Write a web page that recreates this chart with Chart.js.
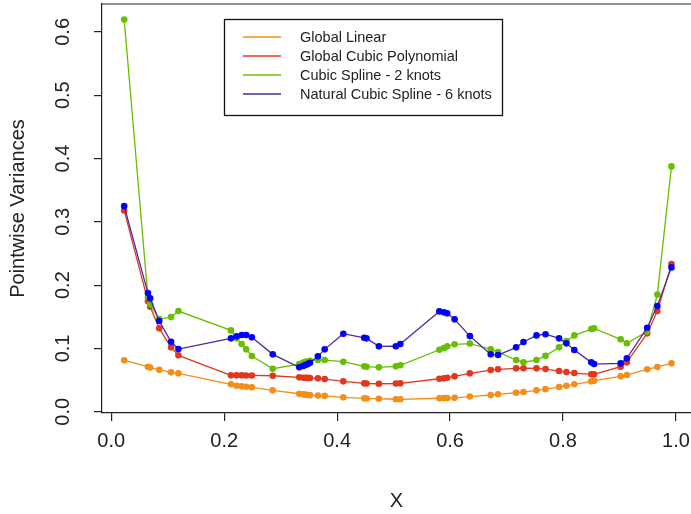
<!DOCTYPE html>
<html>
<head>
<meta charset="utf-8">
<script src="https://cdn.jsdelivr.net/npm/chart.js@4.4.1/dist/chart.umd.min.js"></script>
<style>
  body { margin: 0; background: #fff; overflow: hidden; }
  #wrap { width: 691px; height: 514px; }
</style>
</head>
<body>
<div id="wrap"><canvas id="varchart"></canvas></div>
<script>
// x positions of the sample points (shared by all four fits)
const xs = [0.023, 0.065, 0.069, 0.085, 0.106, 0.119, 0.212, 0.222, 0.231, 0.239, 0.249, 0.286,
  0.333, 0.340, 0.344, 0.348, 0.352, 0.366, 0.378, 0.411, 0.448, 0.452, 0.474, 0.504, 0.512,
  0.581, 0.589, 0.595, 0.608, 0.635, 0.672, 0.685, 0.717, 0.730, 0.753, 0.769, 0.793, 0.806,
  0.820, 0.850, 0.855, 0.902, 0.913, 0.949, 0.967, 0.992];

const globalLinear = [0.0812, 0.0711, 0.0698, 0.0663, 0.0622, 0.0606, 0.0433, 0.0411, 0.0401, 0.0395,
  0.0385, 0.0338, 0.0284, 0.0275, 0.0270, 0.0265, 0.0262, 0.0256, 0.0251, 0.0227, 0.0212, 0.0208,
  0.0205, 0.0197, 0.0196, 0.0213, 0.0215, 0.0216, 0.0219, 0.0240, 0.0264, 0.0275, 0.0300, 0.0311,
  0.0338, 0.0357, 0.0390, 0.0411, 0.0433, 0.0480, 0.0491, 0.0559, 0.0581, 0.0670, 0.0707, 0.0764];

const globalCubic = [0.3180, 0.1748, 0.1658, 0.1317, 0.1017, 0.0891, 0.0575, 0.0575, 0.0575, 0.0573,
  0.0573, 0.0568, 0.0543, 0.0537, 0.0535, 0.0534, 0.0532, 0.0527, 0.0516, 0.0480, 0.0448, 0.0445,
  0.0442, 0.0445, 0.0448, 0.0521, 0.0527, 0.0537, 0.0559, 0.0606, 0.0658, 0.0670, 0.0685, 0.0687,
  0.0685, 0.0674, 0.0643, 0.0627, 0.0611, 0.0591, 0.0591, 0.0711, 0.0780, 0.1238, 0.1590, 0.2332];

const cubicSpline = [0.6196, 0.1811, 0.1696, 0.1464, 0.1495, 0.1590, 0.1285, 0.1159, 0.1069, 0.0985,
  0.0880, 0.0679, 0.0753, 0.0777, 0.0790, 0.0797, 0.0805, 0.0816, 0.0816, 0.0790, 0.0717, 0.0711,
  0.0701, 0.0717, 0.0734, 0.0979, 0.1006, 0.1033, 0.1064, 0.1077, 0.0987, 0.0943, 0.0816, 0.0782,
  0.0816, 0.0883, 0.1017, 0.1116, 0.1206, 0.1306, 0.1317, 0.1143, 0.1082, 0.1266, 0.1851, 0.3875];

const naturalSpline = [0.3248, 0.1874, 0.1791, 0.1432, 0.1105, 0.0990, 0.1159, 0.1191, 0.1211, 0.1211,
  0.1175, 0.0906, 0.0701, 0.0722, 0.0737, 0.0753, 0.0774, 0.0875, 0.0985, 0.1232, 0.1168, 0.1159,
  0.1033, 0.1034, 0.1069, 0.1585, 0.1570, 0.1554, 0.1459, 0.1195, 0.0906, 0.0895, 0.1017, 0.1101,
  0.1206, 0.1224, 0.1159, 0.1080, 0.0974, 0.0780, 0.0753, 0.0764, 0.0843, 0.1326, 0.1669, 0.2280];

const seriesNames = ['Global Linear', 'Global Cubic Polynomial', 'Cubic Spline - 2 knots', 'Natural Cubic Spline - 6 knots'];
const xTicks = [0, 0.2, 0.4, 0.6, 0.8, 1.0];
const yTicks = [0, 0.1, 0.2, 0.3, 0.4, 0.5, 0.6];

const FONT = '"Liberation Sans", Arial, Helvetica, sans-serif';
const INK = '#222';

function pts(ys) {
  return xs.map((x, i) => ({ x: x, y: ys[i] }));
}

function series(label, ys, lineColor, dotColor, order) {
  return {
    label: label,
    data: pts(ys),
    borderColor: lineColor,
    backgroundColor: dotColor,
    pointBackgroundColor: dotColor,
    pointBorderWidth: 0,
    pointRadius: 3.3,
    borderWidth: 1.3,
    tension: 0,
    order: order
  };
}

const datasets = [
  series(seriesNames[0], globalLinear, 'rgb(243,142,24)', 'rgb(243,142,24)', 4),
  series(seriesNames[1], globalCubic, 'rgb(226,55,30)', 'rgb(226,55,30)', 3),
  series(seriesNames[2], cubicSpline, 'rgb(104,190,0)', 'rgb(104,190,0)', 2),
  series(seriesNames[3], naturalSpline, 'rgb(74,42,158)', 'rgb(0,0,255)', 1)
];

// box edge, rotated y labels and the framed legend
const extras = {
  id: 'extras',
  afterDraw(chart) {
    const { ctx, chartArea, scales } = chart;
    ctx.save();
    ctx.strokeStyle = INK;
    ctx.lineWidth = 1.2;
    ctx.beginPath();
    ctx.moveTo(chartArea.left, chartArea.top);
    ctx.lineTo(chartArea.right, chartArea.top);
    ctx.stroke();

    ctx.fillStyle = INK;
    ctx.font = '20px ' + FONT;
    ctx.textAlign = 'center';
    ctx.textBaseline = 'middle';
    yTicks.forEach(v => {
      ctx.save();
      ctx.translate(63, scales.y.getPixelForValue(v));
      ctx.rotate(-Math.PI / 2);
      ctx.fillText(v.toFixed(1), 0, 0);
      ctx.restore();
    });

    // legend
    ctx.lineWidth = 1.3;
    ctx.strokeStyle = '#111';
    ctx.strokeRect(224.5, 19.5, 278, 96);
    ctx.font = '14.5px ' + FONT;
    ctx.textAlign = 'left';
    chart.data.datasets.forEach((ds, i) => {
      const ly = 37 + i * 19;
      ctx.strokeStyle = ds.borderColor;
      ctx.lineWidth = 1.6;
      ctx.beginPath();
      ctx.moveTo(243, ly);
      ctx.lineTo(281, ly);
      ctx.stroke();
      ctx.fillStyle = INK;
      ctx.fillText(ds.label, 300, ly + 0.5);
    });
    ctx.restore();
  }
};

Chart.defaults.font.family = FONT;
Chart.defaults.color = INK;

new Chart('varchart', {
  type: 'line',
  data: { datasets: datasets },
  options: {
    responsive: true,
    maintainAspectRatio: false,
    animation: false,
    layout: { autoPadding: false, padding: { top: 4, left: 0, right: 0, bottom: 0 } },
    plugins: {
      legend: { display: false },
      tooltip: { enabled: false }
    },
    scales: {
      x: {
        type: 'linear',
        min: -0.0163,
        max: 1.0266,
        afterBuildTicks: s => { s.ticks = xTicks.map(v => ({ value: v })); },
        afterFit: s => { s.height = 101; s.paddingLeft = 0; s.paddingRight = 0; },
        grid: { drawOnChartArea: false, drawTicks: true, tickLength: 8, color: INK, lineWidth: 1.2 },
        border: { display: true, color: INK, width: 1.2 },
        ticks: {
          font: { size: 20 },
          color: INK,
          padding: 8,
          maxRotation: 0,
          autoSkip: false,
          callback: v => v.toFixed(1)
        },
        title: { display: true, text: 'X', font: { size: 20 }, color: INK, padding: { top: 0, bottom: 1 } }
      },
      y: {
        type: 'linear',
        min: -0.002,
        max: 0.644,
        afterBuildTicks: s => { s.ticks = yTicks.map(v => ({ value: v })); },
        afterFit: s => { s.width = 102; s.paddingTop = 0; s.paddingBottom = 0; },
        grid: { drawOnChartArea: false, drawTicks: true, tickLength: 8, color: INK, lineWidth: 1.2 },
        border: { display: true, color: INK, width: 1.2 },
        ticks: { display: false },
        title: { display: true, text: 'Pointwise Variances', font: { size: 20 }, color: INK, padding: { top: 6, bottom: 0 } }
      }
    }
  },
  plugins: [extras]
});
</script>
</body>
</html>
